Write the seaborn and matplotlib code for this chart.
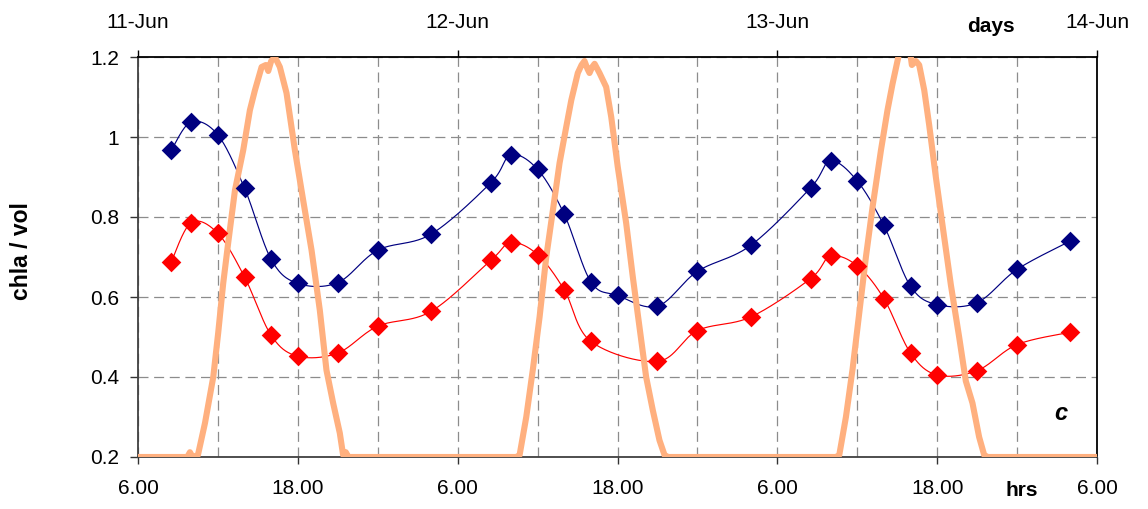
import numpy as np
import pandas as pd
import matplotlib
matplotlib.use("Agg")
import matplotlib.pyplot as plt
from matplotlib.ticker import FixedLocator, MultipleLocator
import seaborn as sns

# Sampling times (hours from 11-Jun 00:00) and chlorophyll per volume
hours = [8.5, 10, 12, 14, 16, 18, 21, 24, 28, 32.5, 34, 36, 38, 40, 42,
         45, 48, 52, 56.5, 58, 60, 62, 64, 66, 69, 72, 76]
chla_blue = [0.967, 1.038, 1.005, 0.872, 0.694, 0.634, 0.636, 0.717, 0.757,
             0.886, 0.955, 0.919, 0.807, 0.638, 0.604, 0.577, 0.664, 0.729,
             0.873, 0.940, 0.890, 0.779, 0.627, 0.581, 0.586, 0.669, 0.740]
chla_red = [0.688, 0.786, 0.759, 0.650, 0.504, 0.452, 0.460, 0.527, 0.564,
            0.692, 0.736, 0.706, 0.618, 0.489, np.nan, 0.439, 0.516, 0.550,
            0.646, 0.702, 0.678, 0.596, 0.460, 0.405, 0.416, 0.481, 0.512]

# Irradiance trace, scaled onto the chla axis (night = axis floor)
light_hours = [6, 9.7, 9.9, 10.1, 10.5, 11.03, 11.65, 12.02, 12.4, 12.77,
               13.28, 13.9, 14.4, 14.78, 15.28, 15.6, 15.78, 16.0, 16.28,
               16.65, 17.15, 17.78, 18.4, 19.03, 19.65, 20.15, 20.65, 21.15,
               21.4, 21.6, 21.8, 22.0,
               34.4, 34.65, 35.15, 35.65, 36.15, 36.65, 37.15, 37.65, 38.15,
               38.53, 39.02, 39.3, 39.52, 39.75, 39.9, 40.1, 40.28, 40.65,
               41.15, 41.53, 42.02, 42.65, 43.15, 43.65, 44.15, 44.65, 45.15,
               45.53, 45.8,
               58.4, 58.65, 59.15, 59.65, 60.15, 60.65, 61.15, 61.78, 62.27,
               62.65, 63.15, 63.4, 63.9, 64.1, 64.4, 64.65, 65.03, 65.4,
               65.9, 66.4, 67.03, 67.65, 68.15, 68.65, 69.15, 69.53, 69.8,
               78]
light_values = [0.2, 0.2, 0.212, 0.2, 0.205, 0.285, 0.40, 0.51, 0.635, 0.735,
                0.867, 0.967, 1.067, 1.117, 1.175, 1.18, 1.165, 1.19, 1.2,
                1.175, 1.11, 0.967, 0.842, 0.717, 0.567, 0.417, 0.335, 0.26,
                0.205, 0.212, 0.2, 0.2,
                0.2, 0.205, 0.30, 0.42, 0.55, 0.70, 0.817, 0.935, 1.025,
                1.092, 1.16, 1.18, 1.19, 1.17, 1.16, 1.175, 1.183, 1.16,
                1.125, 1.05, 0.925, 0.785, 0.65, 0.525, 0.40, 0.317, 0.242,
                0.205, 0.2,
                0.2, 0.205, 0.30, 0.42, 0.56, 0.70, 0.825, 0.967, 1.067,
                1.133, 1.21, 1.23, 1.23, 1.18, 1.19, 1.18, 1.117, 1.03,
                0.90, 0.78, 0.63, 0.50, 0.39, 0.335, 0.25, 0.205, 0.2,
                0.2]

hour_ticks = [6, 18, 30, 42, 54, 66, 78]
hour_labels = ["6.00", "18.00", "6.00", "18.00", "6.00", "18.00", "6.00"]
day_ticks = [6, 30, 54, 78]
day_labels = ["11-Jun", "12-Jun", "13-Jun", "14-Jun"]
y_ticks = [0.2, 0.4, 0.6, 0.8, 1.0, 1.2]
y_labels = ["0.2", "0.4", "0.6", "0.8", "1", "1.2"]

BLUE = "#000080"
RED = "#FF0000"
ORANGE = "#FFB07F"
GRID = "#8C8C8C"


def smooth_curve(x, y, n=40):
    """Bezier smoothing through every point (Catmull-Rom style control points)."""
    p = np.column_stack([x, y]).astype(float)
    ext = np.vstack([p[0], p, p[-1]])
    parts = []
    for i in range(len(p) - 1):
        p0, p1, p2, p3 = ext[i], ext[i + 1], ext[i + 2], ext[i + 3]
        c1 = p1 + (p2 - p0) / 6.0
        c2 = p2 - (p3 - p1) / 6.0
        s = np.linspace(0, 1, n, endpoint=(i == len(p) - 2))[:, None]
        parts.append((1 - s) ** 3 * p1 + 3 * (1 - s) ** 2 * s * c1
                     + 3 * (1 - s) * s ** 2 * c2 + s ** 3 * p2)
    return np.vstack(parts)


sns.set_theme(style="white")
plt.rcParams["font.family"] = ["Liberation Sans", "DejaVu Sans"]
plt.rcParams["text.color"] = "black"
plt.rcParams["xtick.labelcolor"] = "black"
plt.rcParams["ytick.labelcolor"] = "black"

W, H = 1148, 509
fig = plt.figure(figsize=(W / 100, H / 100), dpi=100)
ax = fig.add_axes([138 / W, 1 - 457 / H, (1097 - 138) / W, 400 / H])

samples = pd.DataFrame({"hours": hours, "blue": chla_blue, "red": chla_red})
light = pd.DataFrame({"hours": light_hours, "light": light_values})

for col, color in (("blue", BLUE), ("red", RED)):
    d = samples[["hours", col]].dropna()
    curve = smooth_curve(d["hours"].values, d[col].values)
    sns.lineplot(x=curve[:, 0], y=curve[:, 1], sort=False, estimator=None,
                 color=color, linewidth=0.85, ax=ax, zorder=2)

sns.lineplot(data=light, x="hours", y="light", sort=False, estimator=None,
             color=ORANGE, linewidth=4.4, ax=ax, zorder=3,
             solid_joinstyle="round", solid_capstyle="butt")

for col, color in (("blue", BLUE), ("red", RED)):
    d = samples[["hours", col]].dropna()
    sns.scatterplot(data=d, x="hours", y=col, marker="D", s=100, color=color,
                    linewidth=0, ax=ax, zorder=4)

ax.set_xlim(6, 78)
ax.set_ylim(0.2, 1.2)
ax.set_xlabel("")
ax.set_ylabel("")

ax.xaxis.set_major_locator(FixedLocator(hour_ticks))
ax.set_xticklabels(hour_labels)
ax.xaxis.set_minor_locator(MultipleLocator(6))
ax.set_yticks(y_ticks)
ax.set_yticklabels(y_labels)

ax.grid(False)
ax.grid(True, which="both", axis="x", color=GRID, linewidth=0.9,
        linestyle=(0, (8, 4.5)))
ax.grid(True, which="major", axis="y", color=GRID, linewidth=0.9,
        linestyle=(0, (8, 4.5)))
ax.set_axisbelow(True)

ax.tick_params(axis="x", which="major", direction="out", length=5, width=1,
               color="#333333", pad=11, labelsize=15, bottom=True,
               labelcolor="black")
ax.tick_params(axis="x", which="minor", length=0)
ax.tick_params(axis="y", direction="out", length=5.5, width=1,
               color="#333333", pad=8, labelsize=15, left=True,
               labelcolor="black")

for side in ("left", "bottom"):
    ax.spines[side].set_color("#404040")
    ax.spines[side].set_linewidth(1.3)
for side in ("top", "right"):
    ax.spines[side].set_color("#000000")
    ax.spines[side].set_linewidth(1.3)
    ax.spines[side].set_visible(True)

top = ax.secondary_xaxis("top")
top.set_xticks(day_ticks)
top.set_xticklabels(day_labels)
top.tick_params(axis="x", direction="out", length=5, width=1, color="#000000",
                pad=13, labelsize=15, labelcolor="black")
top.spines["top"].set_visible(False)

fig.text(991 / W, 1 - 27 / H, "days", fontsize=15, fontweight="bold",
         ha="center", va="center", color="black")
fig.text(1022 / W, 1 - 490 / H, "hrs", fontsize=15, fontweight="bold",
         ha="center", va="center", color="black")
fig.text(1061 / W, 1 - 414 / H, "c", fontsize=17, fontweight="bold",
         fontstyle="italic", ha="center", va="center", color="black")
fig.text(22 / W, 1 - 251 / H, "chla / vol", fontsize=16.5, fontweight="bold",
         rotation=90, ha="center", va="center", color="black")

fig.savefig("out.png", dpi=100, facecolor="white")
